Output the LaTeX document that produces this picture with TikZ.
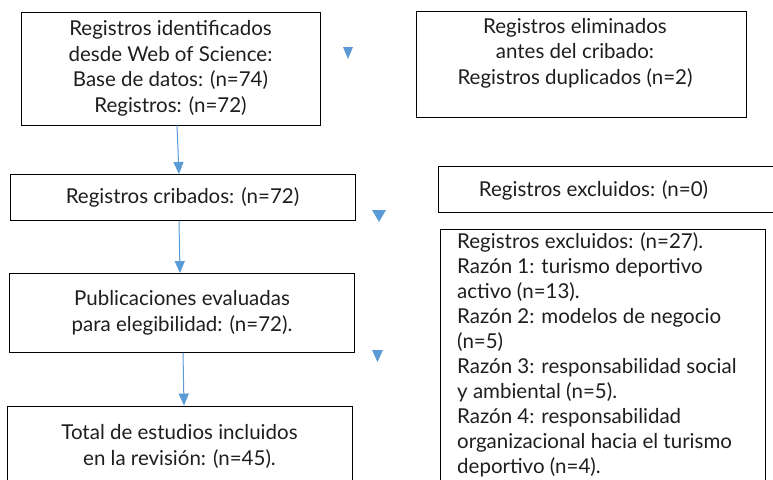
\documentclass[tikz,border=0pt]{standalone}
\usepackage{fontspec}
\setmainfont{Lato}
\usetikzlibrary{calc}
\usetikzlibrary{arrows.meta}
\definecolor{flowblue}{RGB}{91,155,213}
\definecolor{txtgray}{RGB}{30,30,30}

\tikzset{
  box/.style={draw=black, line width=0.9pt, align=center, inner sep=0pt, text=txtgray},
  flow/.style={draw=flowblue, line width=1pt, -{Triangle[length=12pt,width=10pt]}},
}

\begin{document}
\begin{tikzpicture}[x=1pt, y=-1pt, font=\fontsize{20.5}{25.6}\selectfont]
            \clip (0,0) rectangle (773,479);

            % Left column: main flow
            \node[box, minimum width=299pt, minimum height=113pt] (ident) at (170.5,68.5)
              {Registros identificados\\desde Web of Science:\\Base de datos: (n=74)\\Registros: (n=72)};
            \node[box, minimum width=345pt, minimum height=46pt] (crib) at (182.5,197.5)
              {Registros cribados: (n=72)};
            \node[box, minimum width=345pt, minimum height=79pt] (eleg) at (182,313)
              {Publicaciones evaluadas\\para elegibilidad: (n=72).};
            \node[box, minimum width=345pt, minimum height=81pt] (total) at (179.5,446.5)
              {Total de estudios incluidos\\en la revisión: (n=45).};

            % Connectors
            \draw[flow] ($(ident.south)+(6.5,0)$) -- ($(crib.north)+(-3.5,0)$);
            \draw[flow] ($(crib.south)+(-3.5,0)$) -- ($(eleg.north)+(-2,0)$);
            \draw[flow] ($(eleg.south)+(1,0)$) -- ($(total.north)+(4.5,0)$);

            % Stray arrow heads
            \fill[flowblue] (343,47) -- (353,47) -- (348,59) -- cycle;
            \fill[flowblue] (372,210) -- (386,210) -- (379,222) -- cycle;
            \fill[flowblue] (372,350) -- (383,350) -- (377.5,362) -- cycle;

            % Right column: removed records
            \draw[line width=0.9pt] (416.5,11) rectangle (746.5,117.5);
            \node[align=center, text=txtgray] (elim) at (575,53)
              {Registros eliminados\\antes del cribado:\\Registros duplicados (n=2)};

            % Right column: excluded records
            \draw[line width=0.9pt] (438.5,166) rectangle (780,212);
            \node[text=txtgray] (exclcrib) at (593.5,190) {Registros excluidos: (n=0)};

            \draw[line width=0.9pt] (440,229) rectangle (765.5,495);
            \node[align=left, anchor=north west, inner sep=0pt, text=txtgray,
                  font=\fontsize{20.5}{25}\selectfont] (excleleg) at (457,232)
              {Registros excluidos: (n=27).\\Razón 1: turismo deportivo\\activo (n=13).\\Razón 2: modelos de negocio\\(n=5)\\Razón 3: responsabilidad social\\y ambiental (n=5).\\Razón 4: responsabilidad\\organizacional hacia el turismo\\deportivo (n=4).};

        \end{tikzpicture}
\end{document}
